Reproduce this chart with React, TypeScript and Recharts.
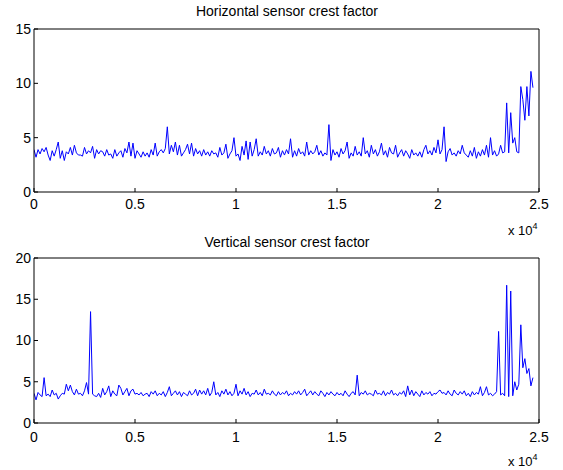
import { LineChart, Line, XAxis, YAxis } from "recharts";

// sample spacing along the x axis (samples are 100 apart)
const sampleStep = 100;

const xTicks = [0, 5000, 10000, 15000, 20000, 25000];
const hTicks = [0, 5, 10, 15];
const vTicks = [0, 5, 10, 15, 20];

const horizontalCrest = [
  3.9, 3.2, 3.9, 3.5, 4.0, 3.7, 4.1, 3.4, 2.9, 3.8,
  3.3, 3.9, 4.6, 3.1, 3.8, 2.9, 3.7, 3.5, 4.1, 3.4,
  4.3, 3.6, 3.4, 3.4, 3.3, 4.1, 3.5, 3.8, 3.6, 4.2,
  3.1, 3.9, 3.5, 3.8, 3.7, 3.3, 3.9, 3.4, 3.5, 3.1,
  3.9, 3.3, 3.6, 3.8, 3.2, 4.0, 3.6, 4.6, 3.3, 4.5,
  3.1, 3.8, 3.5, 3.2, 3.7, 3.3, 3.6, 3.2, 3.9, 3.4,
  4.5, 3.3, 3.7, 3.9, 3.6, 4.0, 6.0, 3.5, 4.3, 3.7,
  4.6, 3.4, 4.3, 3.3, 3.6, 3.9, 4.4, 3.5, 4.5, 3.3,
  4.0, 3.5, 3.8, 3.3, 3.9, 3.4, 3.7, 3.3, 3.8, 3.5,
  3.6, 3.2, 4.1, 3.4, 3.6, 4.4, 3.1, 3.5, 3.8, 5.0,
  3.3, 3.5, 2.9, 4.2, 3.4, 4.7, 3.0, 4.6, 3.3, 3.9,
  4.9, 3.3, 3.7, 3.4, 4.2, 3.5, 3.8, 3.3, 4.0, 3.5,
  3.6, 4.1, 3.2, 3.8, 3.4, 3.9, 3.5, 4.9, 3.2, 3.8,
  3.3, 4.0, 3.5, 3.7, 3.3, 4.6, 3.4, 3.8, 3.5, 3.7,
  4.3, 3.4, 3.8, 3.3, 3.6, 3.4, 6.2, 2.9, 3.9, 3.4,
  3.7, 3.2, 4.0, 3.5, 3.8, 4.6, 3.1, 3.6, 3.3, 4.2,
  3.4, 3.7, 3.3, 5.0, 3.5, 3.8, 3.2, 4.3, 3.5, 3.9,
  3.3, 3.7, 4.5, 3.4, 3.8, 3.2, 4.1, 3.6, 3.5, 4.3,
  3.2, 3.6, 3.9, 3.3, 3.8, 3.5, 3.1, 3.9, 3.4, 3.6,
  3.3, 3.7, 3.2, 3.9, 4.3, 3.5, 3.8, 3.4, 4.1, 3.6,
  4.8, 3.5, 3.9, 6.0, 2.8, 3.7, 4.0, 3.4, 3.6, 3.3,
  3.8, 3.5, 4.3, 3.6, 3.4, 3.2, 3.8, 3.3, 4.1, 3.1,
  3.7, 3.3, 3.9, 3.4, 4.3, 3.2, 5.0, 3.4, 3.8, 3.3,
  3.5, 4.3, 3.6, 3.7, 8.2, 3.6, 7.3, 4.5, 5.0, 3.7,
  3.6, 9.7, 8.5, 6.6, 9.7, 7.0, 11.1, 9.6,
];

const verticalCrest = [
  3.6, 2.8, 3.7, 3.4, 3.2, 5.5, 3.3, 3.5, 3.2, 4.0,
  3.4, 3.6, 2.9, 3.3, 3.6, 3.5, 4.7, 3.9, 4.6, 3.8,
  3.4, 4.1, 3.5, 3.6, 3.3, 3.9, 4.9, 3.5, 13.5, 3.5,
  3.3, 3.2, 3.6, 3.1, 4.2, 3.4, 3.8, 4.5, 3.2, 3.9,
  3.5, 3.3, 4.6, 4.2, 3.4, 3.8, 4.2, 3.3, 3.9, 4.1,
  3.5, 3.6, 3.4, 3.7, 3.3, 3.5, 3.6, 3.2, 3.8, 3.5,
  3.9, 3.3, 3.6, 3.4, 3.8, 3.2, 3.7, 4.4, 3.3, 3.6,
  3.9, 3.4, 3.8, 3.2, 3.7, 3.5, 3.3, 3.9, 3.4, 3.6,
  4.1, 3.3, 4.0, 3.5, 3.9, 3.4, 4.2, 3.3, 3.7, 5.0,
  3.4, 3.7, 3.2, 3.9, 3.5, 4.1, 3.4, 3.8, 3.3, 3.6,
  4.7, 3.3, 3.9, 3.5, 4.2, 3.4, 3.8, 3.2, 3.6, 3.5,
  4.0, 3.4, 3.7, 3.3, 4.1, 3.5, 3.6, 3.4, 3.9, 3.5,
  3.3, 3.8, 3.4, 3.7, 3.5, 3.9, 3.3, 3.6, 3.4, 3.8,
  3.5, 3.9, 3.4, 3.7, 4.1, 3.3, 3.6, 3.9, 3.4, 3.8,
  3.5, 3.3, 3.9, 3.6, 3.2, 3.7, 3.4, 3.8, 3.5, 3.3,
  3.7, 3.4, 3.6, 3.3, 3.9, 3.5, 3.2, 3.6, 3.8, 3.4,
  5.8, 3.3, 3.7, 3.5, 3.9, 3.4, 3.6, 3.5, 3.3, 4.0,
  3.5, 3.6, 3.4, 3.9, 3.3, 3.7, 3.5, 4.0, 3.4, 3.6,
  3.3, 3.7, 3.5, 3.9, 3.2, 4.5, 3.4, 4.0, 3.3, 3.8,
  3.5, 3.2, 3.9, 3.4, 3.7, 3.5, 3.8, 3.3, 3.6, 3.5,
  3.8, 4.0, 3.6, 3.7, 3.4, 3.9, 3.5, 3.3, 4.0, 3.6,
  3.4, 3.8, 3.5, 3.9, 3.3, 3.6, 3.2, 3.8, 3.4, 3.7,
  3.5, 4.4, 3.3, 3.7, 4.4, 3.4, 3.6, 3.3, 3.5, 3.8,
  11.1, 3.4, 3.6, 3.3, 16.7, 3.2, 16.0, 3.3, 5.0, 4.0,
  4.7, 11.9, 6.7, 7.8, 6.0, 6.6, 4.5, 5.5,
];

const hRows = horizontalCrest.map((v, i) => ({ x: i * sampleStep, v }));
const vRows = verticalCrest.map((v, i) => ({ x: i * sampleStep, v }));

const font = "'Liberation Sans', Arial, Helvetica, sans-serif";
const tickStyle = { fill: "#000", fontSize: 14, fontFamily: font };

function Panel({
  rows,
  yTicks,
  yMax,
  top,
  xAxisHeight,
  xLabelGap,
}: {
  rows: { x: number; v: number }[];
  yTicks: number[];
  yMax: number;
  top: number;
  xAxisHeight: number;
  xLabelGap: number;
}) {
  return (
    <LineChart
      width={563}
      height={235}
      data={rows}
      margin={{ top: top - 1, right: 23, left: 0, bottom: 0 }}
    >
      <XAxis
        dataKey="x"
        type="number"
        domain={[0, 25000]}
        ticks={xTicks}
        interval={0}
        allowDataOverflow
        height={xAxisHeight}
        tickSize={-4}
        tickMargin={xLabelGap + 4}
        tick={tickStyle}
        tickFormatter={(t: number) => String(t / 10000)}
        axisLine={{ stroke: "#000" }}
        tickLine={{ stroke: "#000" }}
      />
      <XAxis
        xAxisId="top"
        dataKey="x"
        orientation="top"
        type="number"
        domain={[0, 25000]}
        ticks={xTicks}
        interval={0}
        allowDataOverflow
        height={1}
        tickSize={-4}
        tick={false}
        axisLine={{ stroke: "#000" }}
        tickLine={{ stroke: "#000" }}
      />
      <YAxis
        type="number"
        domain={[0, yMax]}
        ticks={yTicks}
        interval={0}
        allowDataOverflow
        width={34}
        tickSize={-4}
        tickMargin={7}
        tick={tickStyle}
        axisLine={{ stroke: "#000" }}
        tickLine={{ stroke: "#000" }}
      />
      <YAxis
        yAxisId="right"
        orientation="right"
        type="number"
        domain={[0, yMax]}
        ticks={yTicks}
        interval={0}
        allowDataOverflow
        width={1}
        tickSize={-4}
        tick={false}
        axisLine={{ stroke: "#000" }}
        tickLine={{ stroke: "#000" }}
      />
      {/* invisible copy so the top / right frame axes have data */}
      <Line
        xAxisId="top"
        yAxisId="right"
        type="linear"
        dataKey="v"
        stroke="none"
        dot={false}
        activeDot={false}
        isAnimationActive={false}
      />
      <Line
        type="linear"
        dataKey="v"
        stroke="#0000ff"
        strokeWidth={1}
        dot={false}
        isAnimationActive={false}
      />
    </LineChart>
  );
}

const labelBase: React.CSSProperties = {
  position: "absolute",
  fontFamily: font,
  color: "#000",
  whiteSpace: "nowrap",
  lineHeight: 1,
};

function Exponent({ top }: { top: number }) {
  return (
    <div style={{ ...labelBase, left: 508, top, fontSize: 13 }}>
      x 10<sup style={{ fontSize: 9, verticalAlign: "6px" }}>4</sup>
    </div>
  );
}

export default function App() {
  return (
    <div
      style={{
        position: "absolute",
        left: 0,
        top: 0,
        width: 563,
        height: 470,
        background: "#fff",
      }}
    >
      <div style={{ position: "absolute", left: 0, top: 0 }}>
        <Panel rows={hRows} yTicks={hTicks} yMax={15} top={29} xAxisHeight={43} xLabelGap={7} />
      </div>
      <div style={{ position: "absolute", left: 0, top: 235 }}>
        <Panel rows={vRows} yTicks={vTicks} yMax={20} top={23} xAxisHeight={47} xLabelGap={9} />
      </div>
      <div style={{ ...labelBase, left: 0, width: 574, textAlign: "center", top: 4, fontSize: 14 }}>
        Horizontal sensor crest factor
      </div>
      <div style={{ ...labelBase, left: 0, width: 574, textAlign: "center", top: 235, fontSize: 14 }}>
        Vertical sensor crest factor
      </div>
      <Exponent top={222} />
      <Exponent top={453} />
    </div>
  );
}
